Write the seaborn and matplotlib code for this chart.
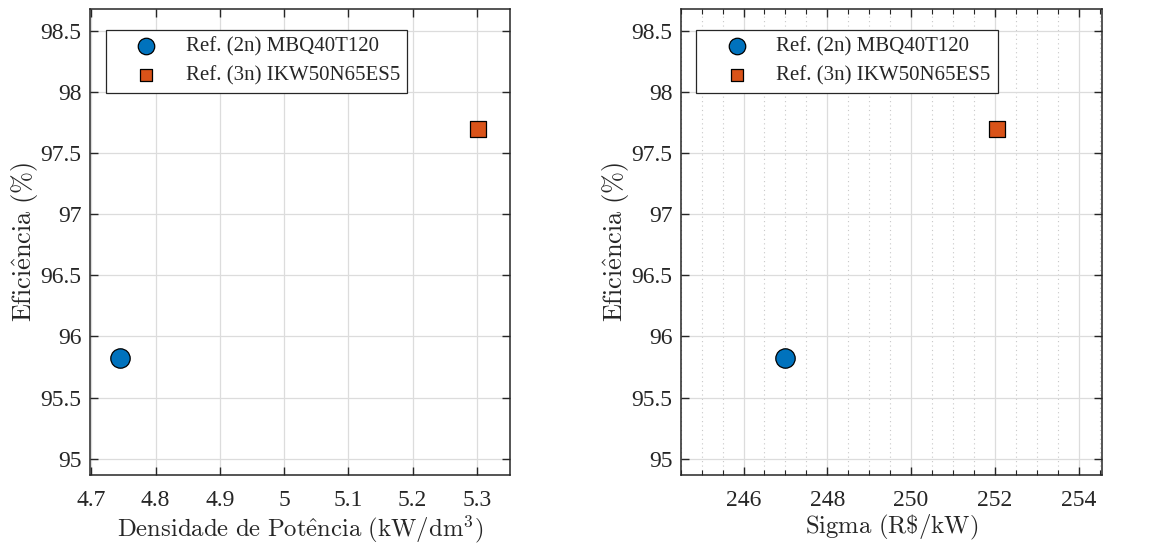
import matplotlib
matplotlib.use("Agg")
import matplotlib.pyplot as plt
from matplotlib.ticker import MultipleLocator, FormatStrFormatter
import seaborn as sns
import pandas as pd

# Reference designs compared in both panels
series = ["Ref. (2n) MBQ40T120", "Ref. (3n) IKW50N65ES5"]
densidade = [4.745, 5.302]      # kW/dm³
sigma = [246.98, 252.06]        # R$/kW
eficiencia = [95.82, 97.70]     # %

markers = ["o", "s"]
sizes = [195, 120]
colors = ["#0072BD", "#D95319"]

df = pd.DataFrame({"serie": series, "densidade": densidade,
                   "sigma": sigma, "eficiencia": eficiencia})

sns.set_theme(style="ticks")
plt.rcParams["font.family"] = ["Liberation Serif", "DejaVu Serif"]
plt.rcParams["mathtext.fontset"] = "cm"
plt.rcParams["axes.edgecolor"] = "#262626"
plt.rcParams["xtick.color"] = "#262626"
plt.rcParams["ytick.color"] = "#262626"

fig = plt.figure(figsize=(11.58, 5.46), dpi=100)
ax1 = fig.add_axes([0.0777, 0.130, 0.3627, 0.8535])
ax2 = fig.add_axes([0.5878, 0.130, 0.3636, 0.8535])

XLABEL_SIZE = 17.8
YLABEL_SIZE = 19
YLABEL = r"$\mathrm{Efici\hat{e}ncia\ (\%)}$"


def draw(ax, xcol):
    for i, name in enumerate(series):
        sns.scatterplot(data=df[df["serie"] == name], x=xcol, y="eficiencia",
                        marker=markers[i], s=sizes[i], color=colors[i],
                        edgecolor="black", linewidth=0.9, label=name,
                        ax=ax, zorder=3)
    ax.set_ylim(94.866, 98.68)
    ax.yaxis.set_major_locator(MultipleLocator(0.5))
    ax.yaxis.set_major_formatter(FormatStrFormatter("%g"))
    ax.xaxis.set_major_formatter(FormatStrFormatter("%g"))
    ax.grid(True, which="major", color="#DCDCDC", linewidth=0.9)
    ax.set_axisbelow(True)
    ax.tick_params(which="both", direction="in", top=True, right=True,
                   labelsize=17)
    ax.tick_params(axis="x", which="major", pad=11)
    ax.tick_params(axis="y", which="major", pad=6)
    ax.tick_params(which="major", length=6, width=1)
    ax.tick_params(which="minor", length=3.5, width=0.8)
    for sp in ax.spines.values():
        sp.set_linewidth(1.1)
    ax.set_ylabel(YLABEL, fontsize=YLABEL_SIZE, labelpad=0.5)
    leg = ax.legend(loc="upper left", bbox_to_anchor=(0.037, 0.955),
                    borderaxespad=0, fontsize=15, frameon=True,
                    fancybox=False, edgecolor="#262626", framealpha=1,
                    handlelength=3.2, handletextpad=0.3, borderpad=0.35,
                    labelspacing=0.45, markerscale=0.85)
    leg.get_frame().set_linewidth(0.9)


draw(ax1, "densidade")
ax1.set_xlim(4.698, 5.3516)
ax1.xaxis.set_major_locator(MultipleLocator(0.1))
ax1.set_xlabel(r"$\mathrm{Densidade\ de\ Pot\hat{e}ncia\ (kW/dm^3)}$",
               fontsize=XLABEL_SIZE, labelpad=1)

draw(ax2, "sigma")
ax2.set_xlim(244.5, 254.55)
ax2.xaxis.set_major_locator(MultipleLocator(2))
ax2.xaxis.set_minor_locator(MultipleLocator(0.5))
ax2.grid(True, which="minor", axis="x", color="#C8C8C8",
         linestyle=(0, (1, 3)), linewidth=0.8)
ax2.set_xlabel(r"$\mathrm{Sigma\ (R\$/kW)}$", fontsize=XLABEL_SIZE, labelpad=1)

fig.savefig("out.png", dpi=100)
